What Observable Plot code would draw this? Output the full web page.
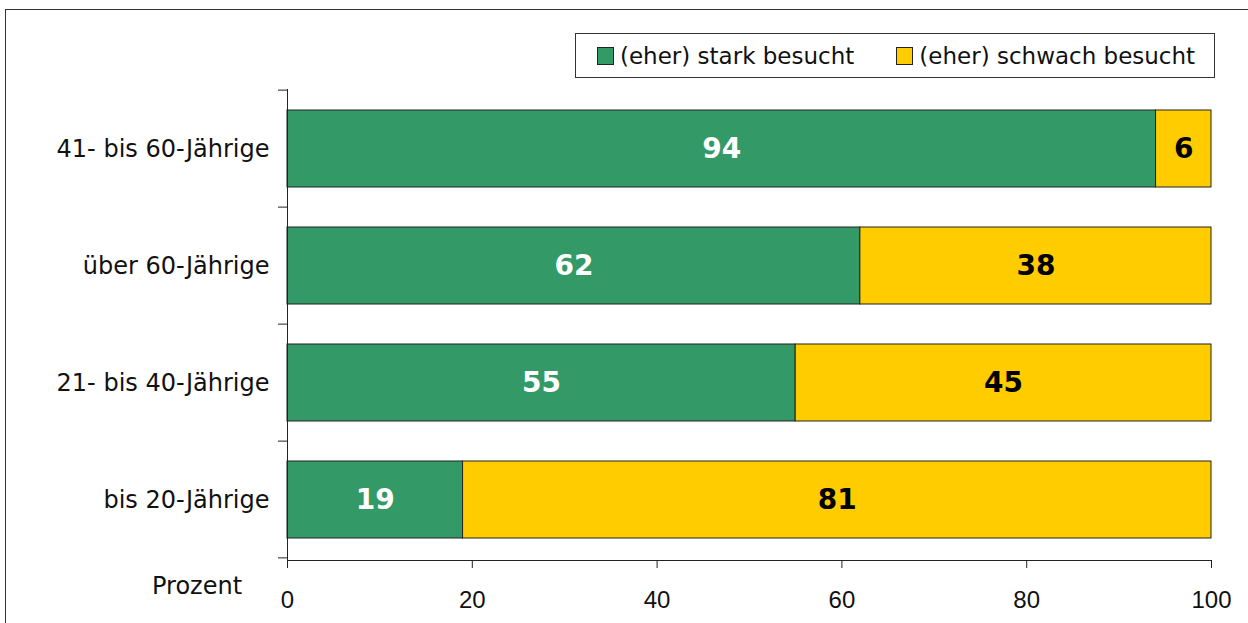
<!DOCTYPE html>
<html>
<head>
<meta charset="utf-8">
<script src="https://cdn.jsdelivr.net/npm/d3@7"></script>
<script src="https://cdn.jsdelivr.net/npm/@observablehq/plot@0.6"></script>
<style>
  html, body { margin: 0; padding: 0; background: #fff; overflow: hidden; }
  #wrap { position: relative; width: 1248px; height: 623px; }
  #frame { position: absolute; left: 5px; top: 9px; width: 1300px; height: 700px; border: 1px solid #333; box-shadow: 1px 1px 1px #999; }
  #legend { position: absolute; left: 575px; top: 33px; width: 638px; height: 43px; border: 1px solid #333; background: #fff;
            font-family: "DejaVu Sans", sans-serif; font-size: 23px; color: #111;
            display: flex; align-items: center; }
  .item { display: flex; align-items: center; margin-left: 21px; white-space: nowrap; }
  .item + .item { margin-left: 42px; }
  .sw { width: 15px; height: 16px; border: 1px solid #222; margin-right: 6px; }
  #prozent { position: absolute; left: 152px; top: 572px; font-family: "DejaVu Sans", sans-serif; font-size: 24px; color: #111; }
  #chart { position: absolute; left: 0; top: 0; }
</style>
</head>
<body>
<div id="wrap">
  <div id="frame"></div>
  <div id="chart"></div>
  <div id="legend"></div>
  <div id="prozent">Prozent</div>
</div>
<script>
const categories = ["41- bis 60-Jährige", "über 60-Jährige", "21- bis 40-Jährige", "bis 20-Jährige"];
const series = ["(eher) stark besucht", "(eher) schwach besucht"];
const starkValues = [94, 62, 55, 19];
const schwachValues = [6, 38, 45, 81];
const colors = ["#339966", "#FFCC00"];
const xTicks = [0, 20, 40, 60, 80, 100];

const data = [];
categories.forEach((c, i) => {
  data.push({cat: c, series: series[0], value: starkValues[i]});
  data.push({cat: c, series: series[1], value: schwachValues[i]});
});

const labelFont = '"DejaVu Sans", sans-serif';

const chart = Plot.plot({
  width: 1248,
  height: 623,
  marginLeft: 287,
  marginRight: 37,
  marginTop: 89,
  marginBottom: 63,
  style: { background: "transparent", color: "#111", fontFamily: labelFont },
  x: { domain: [0, 100], ticks: xTicks },
  y: { domain: categories, paddingInner: 0.34, paddingOuter: 0.17, align: 0.5 },
  color: { domain: series, range: colors },
  marks: [
    Plot.barX(data, Plot.stackX({x: "value", y: "cat", fill: "series", stroke: "#222", strokeWidth: 1, order: series})),
    Plot.text(data, Plot.stackX({x: "value", y: "cat", z: "series", order: series,
      text: d => d.series === series[0] ? String(d.value) : "",
      fill: "white", fontSize: 28, fontWeight: "bold", fontFamily: labelFont})),
    Plot.text(data, Plot.stackX({x: "value", y: "cat", z: "series", order: series,
      text: d => d.series === series[1] ? String(d.value) : "",
      fill: "black", fontSize: 28, fontWeight: "bold", fontFamily: labelFont})),
    Plot.axisX({ticks: xTicks, tickSize: 8, tickPadding: 22, fontSize: 24, fontFamily: '"Liberation Sans", Arial, sans-serif', label: null, stroke: "#222"}),
    Plot.axisY({tickSize: 0, tickPadding: 18, fontSize: 24, fontFamily: labelFont, label: null}),
    Plot.frame({anchor: "left", stroke: "#222"}),
    Plot.frame({anchor: "bottom", stroke: "#222"})
  ]
});

// y-axis ticks at band boundaries, positioned through the Plot y scale
const ys = chart.scale("y");
const svg = d3.select(chart);
const bounds = categories.map(c => ys.apply(c) - ys.step * 0.34 / 2);
bounds.push(ys.apply(categories[categories.length - 1]) + ys.bandwidth + ys.step * 0.34 / 2);
const xs = chart.scale("x");
svg.append("g").selectAll("line").data(bounds).join("line")
  .attr("x1", xs.apply(0) - 9).attr("x2", xs.apply(0))
  .attr("y1", d => d).attr("y2", d => d)
  .attr("stroke", "#222");

document.getElementById("chart").appendChild(chart);

const legend = document.getElementById("legend");
series.forEach((s, i) => {
  const item = document.createElement("div");
  item.className = "item";
  const sw = document.createElement("div");
  sw.className = "sw";
  sw.style.background = colors[i];
  const t = document.createElement("span");
  t.textContent = s;
  item.appendChild(sw);
  item.appendChild(t);
  legend.appendChild(item);
});
</script>
</body>
</html>
